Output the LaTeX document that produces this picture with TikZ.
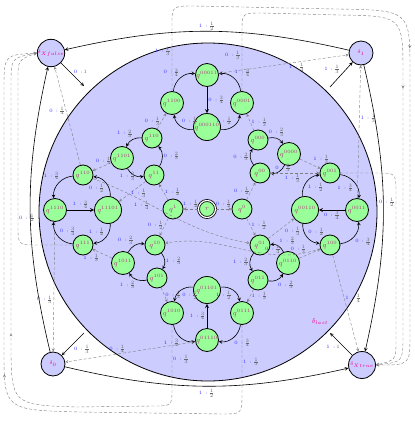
\documentclass[tikz,border=0pt]{standalone}
\usepackage{tikz}
\usepackage{xcolor}
\usetikzlibrary{arrows,decorations.markings}
\newcommand{\trlab}[3]{$\textcolor{blue!80}{#1\,:}\,\textcolor{black!60}{\frac{#2}{#3}}$}
\newcommand{\trone}[1]{$\textcolor{blue!80}{#1\,:}\,\textcolor{black!60}{1}$}
\begin{document}
\begin{tikzpicture}[x=1pt,y=-1pt,>=stealth,
  state/.style={circle,draw=black,thick,fill=green!40,minimum size=20pt,inner sep=0pt,font=\scriptsize,text=magenta!70!black},
  midsize/.style={minimum size=23pt},
  bigsize/.style={minimum size=27pt},
  dstate/.style={circle,draw=black,thick,fill=blue!20,minimum size=24pt,inner sep=0pt,font=\tiny,text=magenta},
  trans/.style={->,semithick},
  ptrans/.style={->,densely dashed,black!50,thin},
  midarrow/.style={postaction={decorate},decoration={markings,mark=at position .5 with {\arrow{stealth}}}},
  lab/.style={font=\tiny,inner sep=1pt}]
\useasboundingbox (0,0) rectangle (415,421);
% region of delta_last
\fill[blue!20] (208,212) circle (169);
\draw[thick] (208,212) circle (169);
\node[font=\scriptsize,text=magenta] (dlast) at (320,322) {$\delta_{last}$};
% outer states
\node[dstate,minimum size=27pt] (dXf) at (51,53) {$\delta_{Xfalse}$};
\node[dstate] (d1) at (361,53) {$\delta_1$};
\node[dstate] (d0) at (53,364) {$\delta_0$};
\node[dstate,minimum size=27pt] (dXt) at (362,365) {$\delta_{Xtrue}$};
\coordinate (inXf) at (84,86);
\coordinate (out1) at (330,87);
\coordinate (out0) at (84,333);
\coordinate (inXt) at (330,333);
% root and first levels
\node[state,double,double distance=1.2pt,minimum size=17pt] (r) at (207,209) {$r$};
\node[state] (q0) at (242,209) {$q^{0}$};
\node[state] (q1) at (173,209) {$q^{1}$};
\node[state] (q00) at (260,173) {$q^{00}$};
\node[state] (q000) at (258,140) {$q^{000}$};
\node[state,midsize] (q0000) at (289,154) {$q^{0000}$};
\node[state] (q11) at (154,175) {$q^{11}$};
\node[state] (q110) at (152,138) {$q^{110}$};
\node[state,midsize] (q1101) at (122,158) {$q^{1101}$};
\node[state] (q10) at (155,245) {$q^{10}$};
\node[state,midsize] (q1011) at (123,263) {$q^{1011}$};
\node[state] (q101) at (157,278) {$q^{101}$};
\node[state] (q01) at (260,245) {$q^{01}$};
\node[state,midsize] (q0110) at (288,263) {$q^{0110}$};
\node[state] (q011) at (258,280) {$q^{011}$};
% top group
\node[state,midsize] (q00011) at (207,75) {$q^{00011}$};
\node[state,midsize] (q1100) at (172,103) {$q^{1100}$};
\node[state,midsize] (q0001) at (242,103) {$q^{0001}$};
\node[state,bigsize] (q000110) at (207,127) {$q^{000110}$};
% right group
\node[state] (q001) at (330,173) {$q^{001}$};
\node[state,midsize] (q0011) at (357,210) {$q^{0011}$};
\node[state,bigsize] (q00110) at (305,210) {$q^{00110}$};
\node[state] (q100) at (330,245) {$q^{100}$};
% left group
\node[state] (qL110) at (83,175) {$q^{110}$};
\node[state,midsize] (q1110) at (55,210) {$q^{1110}$};
\node[state,bigsize] (q11101) at (108,210) {$q^{11101}$};
\node[state] (q111) at (83,245) {$q^{111}$};
% bottom group
\node[state,bigsize] (q01101) at (207,290) {$q^{01101}$};
\node[state,midsize] (q1010) at (172,313) {$q^{1010}$};
\node[state,midsize] (q0111) at (242,313) {$q^{0111}$};
\node[state,midsize] (q01110) at (207,340) {$q^{01110}$};

% outer solid transitions
\draw[trans] (d1) to[bend right=13] node[lab,above]{\trlab{1}{1}{2}} (dXf);
\draw[trans] (d0) to[bend right=13] node[lab,below=2pt]{\trlab{1}{1}{2}} (dXt);
\draw[trans] (d0) to[bend left=13] (dXf);
\draw[trans] (d1) to[bend left=13] (dXt);
\draw[trans] (dXf) -- node[lab,above right]{\trone{0}} (inXf);
\draw[trans] (dXt) -- node[lab,below left]{\trone{1}} (inXt);
\draw[trans] (out1) -- node[lab,above left]{\trlab{1}{1}{3}} (d1);
\draw[trans] (out0) -- node[lab,below right]{\trlab{0}{1}{3}} (d0);

% root
\draw[ptrans] (r) -- node[lab,above]{\trlab{0}{1}{2}} (q0);
\draw[ptrans] (r) -- node[lab,above]{\trlab{1}{1}{2}} (q1);
\draw[ptrans] (q0) -- node[lab,left]{\trlab{0}{1}{2}} (q00);
\draw[ptrans] (q0) -- node[lab,pos=.4,right]{\trlab{1}{1}{2}} (q01);
\draw[ptrans] (q1) -- node[lab,right]{\trlab{1}{1}{2}} (q11);
\draw[ptrans] (q1) -- node[lab,pos=.4,left]{\trlab{0}{1}{2}} (q10);

% upper right
\draw[trans] (q00) to[bend left=35] node[lab,left]{\trlab{0}{2}{3}} (q000);
\draw[trans] (q000) to[bend left=35] node[lab,above=1pt]{\trlab{0}{2}{3}} (q0000);
\draw[trans] (q0000) to[bend left=35] node[lab,pos=.8,above right]{\trlab{0}{2}{3}} (q00);
\draw[ptrans] (q00) -- node[lab,pos=.45,below]{\trlab{1}{1}{3}} (q001);
\draw[ptrans] (q0000) -- node[lab,pos=.6,above right]{\trlab{1}{1}{3}} (q001);
\draw[ptrans] (q000) -- node[lab,right]{\trlab{1}{1}{3}} (q0001);
% upper left
\draw[trans] (q11) to[bend right=35] node[lab,right]{\trlab{0}{2}{3}} (q110);
\draw[trans] (q110) to[bend right=35] node[lab,pos=.4,above left]{\trlab{1}{2}{3}} (q1101);
\draw[trans] (q1101) to[bend right=35] node[lab,pos=.75,left=2pt]{\trlab{1}{2}{3}} (q11);
\draw[ptrans] (q110) -- node[lab,left]{\trlab{0}{1}{3}} (q1100);
\draw[ptrans] (q1101) -- node[lab,pos=.4,above]{\trlab{0}{1}{3}} (qL110);
\draw[ptrans] (q11) -- node[lab,pos=.6,right]{\trlab{1}{1}{3}} (q11101);
% lower left
\draw[trans] (q1011) to[bend left=35] node[lab,above left]{\trlab{0}{2}{3}} (q10);
\draw[trans] (q10) to[bend left=35] node[lab,right]{\trlab{1}{2}{3}} (q101);
\draw[trans] (q101) to[bend left=35] node[lab,below left]{\trlab{1}{2}{3}} (q1011);
\draw[ptrans] (q101) -- node[lab,right]{\trlab{0}{1}{3}} (q1010);
\draw[ptrans] (q1011) -- node[lab,pos=.6,below left]{\trlab{1}{1}{3}} (q111);
% lower right
\draw[trans] (q01) to[bend right=35] node[lab,left]{\trlab{1}{2}{3}} (q011);
\draw[trans] (q011) to[bend right=35] node[lab,below right]{\trlab{0}{2}{3}} (q0110);
\draw[trans] (q0110) to[bend right=35] node[lab,above right]{\trlab{1}{2}{3}} (q01);
\draw[ptrans] (q011) -- node[lab,right]{\trlab{1}{1}{3}} (q0111);
\draw[ptrans] (q0110) -- node[lab,pos=.4,above left]{\trlab{0}{1}{3}} (q100);
\draw[ptrans] (q01) -- node[lab,pos=.6,below right]{\trlab{0}{1}{3}} (q00110);
% long crossings
\draw[ptrans] (qL110) to[out=-20,in=170] node[lab,pos=.3,below]{\trlab{1}{1}{4}} (q01);
\draw[ptrans] (q100) to[out=200,in=10] node[lab,pos=.3,above]{\trlab{0}{1}{4}} (q10);

% top group
\draw[trans] (q1100) to[bend left=45] node[lab,above left]{\trlab{0}{3}{4}} (q00011);
\draw[trans] (q0001) to[bend right=45] node[lab,above right]{\trlab{1}{3}{4}} (q00011);
\draw[trans,thick] (q00011) -- node[lab,right]{\trlab{0}{3}{4}} (q000110);
\draw[trans] (q000110) to[bend left=45] node[lab,above right]{\trlab{0}{1}{2}} (q1100);
\draw[trans] (q000110) to[bend right=45] node[lab,above left]{\trlab{1}{1}{2}} (q0001);
% right group
\draw[trans] (q001) to[bend left=45] node[lab,below left]{\trlab{1}{3}{4}} (q0011);
\draw[trans] (q00110) to[bend left=45] node[lab,below right]{\trlab{1}{1}{2}} (q001);
\draw[trans,thick] (q0011) -- node[lab,below]{\trlab{0}{3}{4}} (q00110);
\draw[trans] (q00110) to[bend right=45] node[lab,above right]{\trlab{0}{1}{2}} (q100);
\draw[trans] (q100) to[bend right=45] node[lab,below right]{\trlab{0}{3}{4}} (q0011);
% left group
\draw[trans] (qL110) to[bend right=45] node[lab,pos=.4,above left]{\trlab{1}{3}{4}} (q1110);
\draw[trans] (q11101) to[bend right=45] node[lab,below left]{\trlab{0}{1}{2}} (qL110);
\draw[trans,thick] (q1110) -- node[lab,above]{\trlab{1}{3}{4}} (q11101);
\draw[trans] (q111) to[bend left=45] node[lab,above right]{\trlab{0}{3}{4}} (q1110);
\draw[trans] (q11101) to[bend left=45] node[lab,above left]{\trlab{1}{1}{2}} (q111);
% bottom group
\draw[trans] (q01101) to[bend right=45] node[lab,below right]{\trlab{0}{1}{2}} (q1010);
\draw[trans] (q01101) to[bend left=45] node[lab,below left]{\trlab{1}{1}{2}} (q0111);
\draw[trans,thick] (q01110) -- node[lab,left]{\trlab{1}{3}{4}} (q01101);
\draw[trans] (q1010) to[bend right=45] node[lab,below left]{\trlab{1}{3}{4}} (q01110);
\draw[trans] (q0111) to[bend left=45] node[lab,below right]{\trlab{0}{3}{4}} (q01110);

% leaving the region
\draw[ptrans] (q00011) -- node[lab,pos=.6,below]{\trlab{1}{1}{4}} (d1);
\draw[ptrans] (q01110) -- node[lab,pos=.6,above]{\trlab{0}{1}{4}} (d0);
\draw[ptrans] (q0011) -- node[lab,pos=.6,right]{\trlab{1}{1}{3}} (d1);
\draw[ptrans] (q1110) -- node[lab,pos=.6,left]{\trlab{0}{1}{3}} (d0);
\draw[ptrans] (qL110) -- node[lab,pos=.55,left]{\trlab{0}{1}{4}} (dXf);
\draw[ptrans] (q100) -- node[lab,pos=.45,right]{\trlab{1}{1}{4}} (dXt);
\draw[ptrans,midarrow] (q1100) -- node[lab,pos=.6,left]{\trlab{1}{1}{3}} (172,25)
  .. controls (172,6) .. (195,6) -- (335,9) .. controls (410,10) .. (410,70)
  -- (410,335) .. controls (410,365) .. (dXt.east);
\draw[ptrans,midarrow] (q0001) -- node[lab,pos=.6,left]{\trlab{0}{1}{3}} (242,32)
  .. controls (242,13) .. (262,13) -- (340,15) .. controls (403,16) .. (403,75)
  -- (403,335) .. controls (403,362) .. (dXt.east);
\draw[ptrans] (q001) -- (378,173) .. controls (396,173) .. (396,195)
  -- node[lab,pos=.05,left]{\trlab{0}{1}{2}} (396,340) .. controls (396,360) .. (dXt.east);
\draw[ptrans,midarrow] (q0111) -- node[lab,pos=.55,right]{\trlab{1}{1}{3}} (242,392)
  .. controls (242,414) .. (222,414) -- (80,412) .. controls (4,410) .. (4,350)
  -- (4,90) .. controls (4,55) .. (dXf.west);
\draw[ptrans,midarrow] (q1010) -- node[lab,pos=.55,right]{\trlab{0}{1}{3}} (172,388)
  .. controls (172,406) .. (152,406) -- (78,407) .. controls (11,405) .. (11,340)
  -- (11,85) .. controls (11,58) .. (dXf.west);
\draw[ptrans] (q111) -- (37,245) .. controls (18,245) .. (18,225)
  -- node[lab,pos=.05,right]{\trlab{0}{1}{2}} (18,80) .. controls (18,60) .. (dXf.west);
\end{tikzpicture}
\end{document}
